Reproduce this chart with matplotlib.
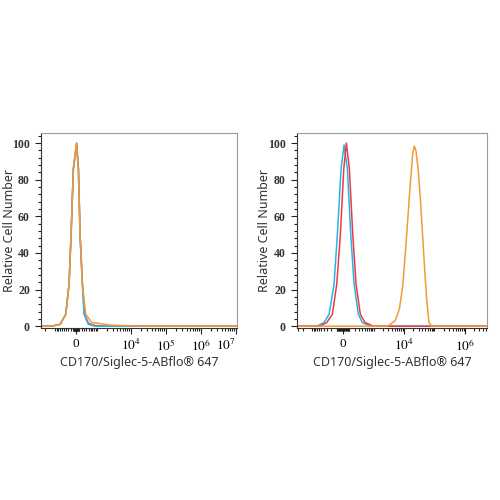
import numpy as np
import matplotlib
matplotlib.use("Agg")
import matplotlib.pyplot as plt
from matplotlib.ticker import FixedLocator, FixedFormatter, MultipleLocator

plt.rcParams['mathtext.fontset'] = 'stix'

# Colours of the three histograms
RED = '#EE3A3F'
BLUE = '#22B6E8'
ORANGE = '#F39A35'

XLABEL = 'CD170/Siglec-5-ABflo\u00ae 647'
YLABEL = 'Relative Cell Number'

# Left panel
LEFT_RED_X = [-2700, -1300, -680, -395, -258, -181, -96, 22, 86, 146, 236, 312, 500, 880, 2000, 1.1e7]
LEFT_RED_Y = [0, 0, 1, 6.5, 23, 50, 86, 100, 86, 50, 23, 6.5, 1.5, 0.3, 0, 0]
LEFT_BLUE_X = [-2700, -1280, -679, -394, -258, -181, -96, 17, 82, 143, 230, 298, 486, 865, 1.1e7]
LEFT_BLUE_Y = [0, 0, 1, 6.5, 23, 50, 86, 99, 86, 50, 23, 6.5, 1, 0, 0]
LEFT_ORANGE_X = [-2700, -1280, -679, -394, -258, -181, -96, 17, 82, 143, 230, 368, 663, 2800, 9400, 34800, 1.1e7]
LEFT_ORANGE_Y = [0, 0, 1, 6.5, 23, 50, 86, 100, 86, 50, 23, 6.5, 2, 0.5, 0.2, 0, 0]

# Right panel
RIGHT_BLUE_X = [-3250, -715, -396, -253, -147, -89, -30, 15, 66, 123, 186, 286, 406, 755, 5.3e6]
RIGHT_BLUE_Y = [0, 0, 2, 6.5, 23, 50, 86, 99, 86, 50, 23, 6.5, 2, 0, 0]
RIGHT_RED_X = [-3250, -550, -313, -180, -99, -41, 11, 50, 99, 160, 229, 342, 507, 975, 5.3e6]
RIGHT_RED_Y = [0, 0, 2, 6.5, 23, 50, 86, 100, 86, 50, 23, 6.5, 2, 0, 0]
RIGHT_ORANGE_X = [-3250, 1853, 3052, 5070, 7020, 9070, 11040, 13230, 15740, 19290, 21770,
                  24750, 29440, 35270, 41060, 47740, 55520, 66060, 81030, 5.3e6]
RIGHT_ORANGE_Y = [0, 0, 0.2, 2.9, 9.2, 21.8, 39.8, 57.8, 75.9, 93.9, 98.4,
                  95.7, 84.9, 66.8, 48.8, 30.8, 14.6, 2, 0, 0]

LEFT_TICKS = [0, 1e4, 1e5, 1e6, 1e7]
LEFT_LABELS = ['0', '$10^4$', '$10^5$', '$10^6$', '$10^7$']
RIGHT_TICKS = [0, 1e4, 1e6]
RIGHT_LABELS = ['0', '$10^4$', '$10^6$']


def asinh_scale(c):
    def fwd(x):
        return np.arcsinh(np.asarray(x, dtype=float) / c) / np.log(10)

    def inv(y):
        return c * np.sinh(np.asarray(y, dtype=float) * np.log(10))
    return fwd, inv


def minor_positions(xmax):
    pos = []
    for k in range(1, 8):
        for m in range(1, 10):
            v = m * 10 ** k
            if v <= xmax:
                pos.append(v)
            if k <= 3:
                pos.append(-v)
    return pos


def style_axes(ax, c, xlim, ticks, labels, ylab_x):
    fwd, inv = asinh_scale(c)
    ax.set_xscale('function', functions=(fwd, inv))
    ax.set_xlim(*xlim)
    ax.set_ylim(-1, 105.5)

    ax.xaxis.set_major_locator(FixedLocator(ticks))
    ax.xaxis.set_major_formatter(FixedFormatter(labels))
    ax.xaxis.set_minor_locator(FixedLocator(minor_positions(xlim[1])))
    ax.yaxis.set_major_locator(MultipleLocator(20))
    ax.yaxis.set_minor_locator(MultipleLocator(4))

    ax.tick_params(which='both', direction='out', color='#222222', width=0.8)
    ax.tick_params(which='major', length=4)
    ax.tick_params(which='minor', length=2)
    ax.tick_params(axis='x', labelsize=9.5, pad=3)
    ax.tick_params(axis='y', labelsize=8.5, pad=4)
    for lab in ax.get_yticklabels():
        lab.set_family('Liberation Serif')
        lab.set_fontweight('bold')
        lab.set_color('#333333')
    for lab in ax.get_xticklabels():
        lab.set_family('Liberation Serif')

    for side in ['top', 'right']:
        ax.spines[side].set_color('#9a9a9a')
    for side in ['left', 'bottom']:
        ax.spines[side].set_color('#333333')
    for s in ax.spines.values():
        s.set_linewidth(0.8)

    ax.set_xlabel(XLABEL, fontsize=9, family='Noto Sans', color='#333333', labelpad=2)
    ax.set_ylabel(YLABEL, fontsize=9, family='Noto Sans', color='#333333')
    ax.yaxis.set_label_coords(ylab_x, 0.5)


fig = plt.figure(figsize=(5, 5), dpi=100)

ax1 = fig.add_axes([41 / 500, 172 / 500, 196 / 500, 195 / 500])
ax1.plot(LEFT_RED_X, LEFT_RED_Y, color=RED, lw=1.1)
ax1.plot(LEFT_BLUE_X, LEFT_BLUE_Y, color=BLUE, lw=1.1)
ax1.plot(LEFT_ORANGE_X, LEFT_ORANGE_Y, color=ORANGE, lw=1.1)
style_axes(ax1, 540, (-2700, 1.1e7), LEFT_TICKS, LEFT_LABELS, -0.125)
ax1.get_xticklabels()[-1].set_horizontalalignment('right')

ax2 = fig.add_axes([297 / 500, 172 / 500, 190 / 500, 195 / 500])
ax2.plot(RIGHT_BLUE_X, RIGHT_BLUE_Y, color=BLUE, lw=1.1)
ax2.plot(RIGHT_RED_X, RIGHT_RED_Y, color=RED, lw=1.1)
ax2.plot(RIGHT_ORANGE_X, RIGHT_ORANGE_Y, color=ORANGE, lw=1.1)
style_axes(ax2, 200, (-3250, 5.3e6), RIGHT_TICKS, RIGHT_LABELS, -0.135)

fig.savefig('out.png', dpi=100, facecolor='white')
